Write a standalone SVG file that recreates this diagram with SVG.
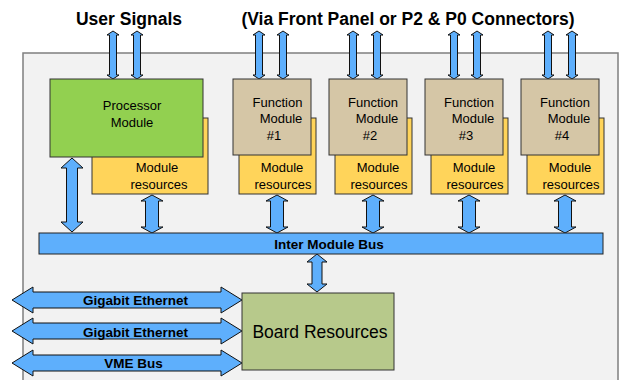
<svg xmlns="http://www.w3.org/2000/svg" width="620" height="380" viewBox="0 0 620 380">
<style>
.bg{fill:#f2f2f2;stroke:#7f7f7f;stroke-width:1.5}
.box{stroke:#333;stroke-width:1}
.proc{fill:#92d050}
.fm{fill:#d5c6a6}
.res{fill:#ffd45a}
.board{fill:#b7c98b}
.bus{fill:#5eaffc;stroke:#222;stroke-width:1}
.arr{fill:#5eaffc;stroke:#111;stroke-width:1;stroke-linejoin:miter}
text{font-family:"Liberation Sans",Arial,sans-serif;fill:#000}
.t13{font-size:13px;text-anchor:middle}
.title{font-size:17.5px;font-weight:bold;text-anchor:middle}
.lbl{font-size:13.5px;font-weight:bold;text-anchor:middle}
</style>
<rect width="620" height="380" fill="#ffffff"/>
<rect class="bg" x="23" y="53" width="595" height="345"/>
<text class="title" x="129" y="25">User Signals</text>
<text class="title" x="408" y="25">(Via Front Panel or P2 &amp; P0 Connectors)</text>

<g id="connectors">
<!-- top signal arrows -->
<path class="arr" d="M113,31 L119,35 L116.5,35 L116.5,75 L119,75 L113,79 L107,75 L109.5,75 L109.5,35 L107,35 Z"/>
<path class="arr" d="M137,31 L143,35 L140.5,35 L140.5,75 L143,75 L137,79 L131,75 L133.5,75 L133.5,35 L131,35 Z"/>
<path class="arr" d="M259,31 L265,35 L262.5,35 L262.5,75 L265,75 L259,79 L253,75 L255.5,75 L255.5,35 L253,35 Z"/>
<path class="arr" d="M283,31 L289,35 L286.5,35 L286.5,75 L289,75 L283,79 L277,75 L279.5,75 L279.5,35 L277,35 Z"/>
<path class="arr" d="M353,31 L359,35 L356.5,35 L356.5,75 L359,75 L353,79 L347,75 L349.5,75 L349.5,35 L347,35 Z"/>
<path class="arr" d="M377,31 L383,35 L380.5,35 L380.5,75 L383,75 L377,79 L371,75 L373.5,75 L373.5,35 L371,35 Z"/>
<path class="arr" d="M454,31 L460,35 L457.5,35 L457.5,75 L460,75 L454,79 L448,75 L450.5,75 L450.5,35 L448,35 Z"/>
<path class="arr" d="M477,31 L483,35 L480.5,35 L480.5,75 L483,75 L477,79 L471,75 L473.5,75 L473.5,35 L471,35 Z"/>
<path class="arr" d="M548,31 L554,35 L551.5,35 L551.5,75 L554,75 L548,79 L542,75 L544.5,75 L544.5,35 L542,35 Z"/>
<path class="arr" d="M572,31 L578,35 L575.5,35 L575.5,75 L578,75 L572,79 L566,75 L568.5,75 L568.5,35 L566,35 Z"/>
<!-- processor to bus -->
<path class="arr" d="M72,158 L83,168 L77.5,168 L77.5,222 L83,222 L72,232 L61,222 L66.5,222 L66.5,168 L61,168 Z"/>
<!-- resources to bus -->
<path class="arr" d="M152,195 L163,201 L158.5,201 L158.5,227 L163,227 L152,233 L141,227 L145.5,227 L145.5,201 L141,201 Z"/>
<path class="arr" d="M277,195 L288,201 L283.5,201 L283.5,227 L288,227 L277,233 L266,227 L270.5,227 L270.5,201 L266,201 Z"/>
<path class="arr" d="M373,195 L384,201 L379.5,201 L379.5,227 L384,227 L373,233 L362,227 L366.5,227 L366.5,201 L362,201 Z"/>
<path class="arr" d="M469,195 L480,201 L475.5,201 L475.5,227 L480,227 L469,233 L458,227 L462.5,227 L462.5,201 L458,201 Z"/>
<path class="arr" d="M565,195 L576,201 L571.5,201 L571.5,227 L576,227 L565,233 L554,227 L558.5,227 L558.5,201 L554,201 Z"/>
<!-- bus to board -->
<path class="arr" d="M317,254 L327,262 L322,262 L322,284 L327,284 L317,292 L307,284 L312,284 L312,262 L307,262 Z"/>
<!-- horizontal external buses -->
<path class="arr" d="M12,300 L33,287 L33,292 L221,292 L221,287 L242,300 L221,313 L221,308 L33,308 L33,313 Z"/>
<path class="arr" d="M12,331 L33,318 L33,323 L221,323 L221,318 L242,331 L221,344 L221,339 L33,339 L33,344 Z"/>
<path class="arr" d="M12,363 L33,350 L33,355 L221,355 L221,350 L242,363 L221,376 L221,371 L33,371 L33,376 Z"/>
<text class="lbl" x="135.5" y="305">Gigabit Ethernet</text>
<text class="lbl" x="135.5" y="337">Gigabit Ethernet</text>
<text class="lbl" x="133.5" y="368">VME Bus</text>
</g>

<g id="inter-module-bus">
<rect class="bus" x="39" y="233" width="564" height="21"/>
<text class="lbl" x="329" y="249">Inter Module Bus</text>
</g>

<g id="processor-resources">
<rect class="box res" x="92" y="118" width="116" height="76"/>
<text class="t13" x="157" y="172">Module</text>
<text class="t13" x="159" y="189">resources</text>
</g>
<g id="processor-module">
<rect class="box proc" x="50" y="79" width="153" height="78"/>
<text class="t13" x="132" y="110">Processor</text>
<text class="t13" x="132" y="127">Module</text>
</g>

<g id="fm1-resources">
<rect class="box res" x="239" y="118" width="77" height="76"/>
<text class="t13" x="282" y="172">Module</text>
<text class="t13" x="283" y="189">resources</text>
</g>
<g id="function-module-1">
<rect class="box fm" x="233" y="79" width="78" height="76"/>
<text class="t13" x="277.5" y="107">Function</text>
<text class="t13" x="281" y="123">Module</text>
<text class="t13" x="274" y="140">#1</text>
</g>

<g id="fm2-resources">
<rect class="box res" x="335" y="118" width="77" height="76"/>
<text class="t13" x="378" y="172">Module</text>
<text class="t13" x="379" y="189">resources</text>
</g>
<g id="function-module-2">
<rect class="box fm" x="329" y="79" width="78" height="76"/>
<text class="t13" x="373" y="107">Function</text>
<text class="t13" x="377" y="123">Module</text>
<text class="t13" x="370" y="140">#2</text>
</g>

<g id="fm3-resources">
<rect class="box res" x="431" y="118" width="77" height="76"/>
<text class="t13" x="474" y="172">Module</text>
<text class="t13" x="475" y="189">resources</text>
</g>
<g id="function-module-3">
<rect class="box fm" x="425" y="79" width="78" height="76"/>
<text class="t13" x="469" y="107">Function</text>
<text class="t13" x="473" y="123">Module</text>
<text class="t13" x="466" y="140">#3</text>
</g>

<g id="fm4-resources">
<rect class="box res" x="527" y="118" width="77" height="76"/>
<text class="t13" x="570" y="172">Module</text>
<text class="t13" x="571" y="189">resources</text>
</g>
<g id="function-module-4">
<rect class="box fm" x="521" y="79" width="78" height="76"/>
<text class="t13" x="565" y="107">Function</text>
<text class="t13" x="569" y="123">Module</text>
<text class="t13" x="562" y="140">#4</text>
</g>

<g id="board-resources">
<rect class="box board" x="242" y="293" width="152" height="77"/>
<text x="320" y="338" style="font-size:17.5px;text-anchor:middle">Board Resources</text>
</g>
</svg>
